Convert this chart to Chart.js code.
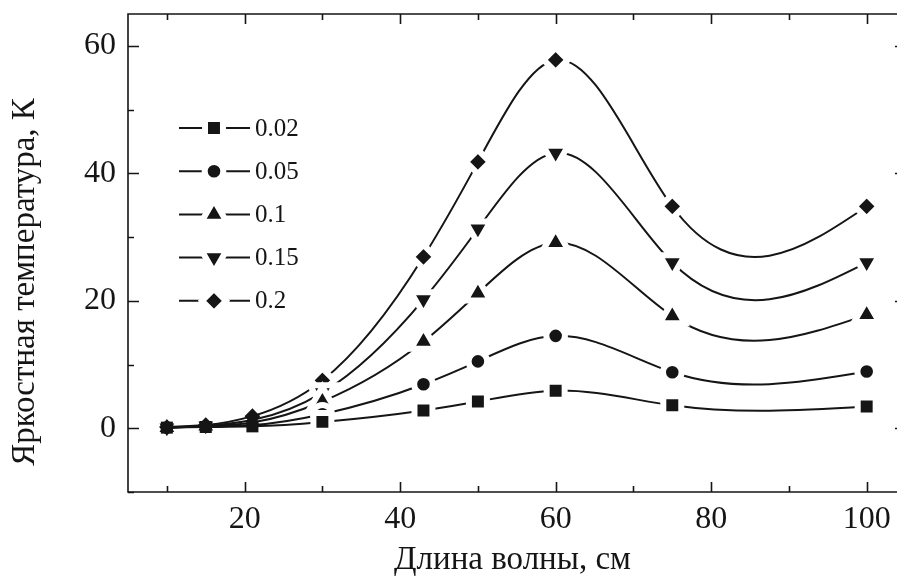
<!DOCTYPE html>
<html>
<head>
<meta charset="utf-8">
<script src="https://cdn.jsdelivr.net/npm/chart.js@4"></script>
<style>
  html, body { margin: 0; padding: 0; background: #fff; overflow: hidden; }
  #wrap { width: 897px; height: 582px; position: relative; }
</style>
</head>
<body>
<div id="wrap"><canvas id="chart"></canvas></div>
<script>
"use strict";

// wavelength, cm
const wavelengths = [10, 15, 21, 30, 43, 50, 60, 75, 100];

// brightness temperature, K
const series002 = [0.1, 0.2, 0.3, 1.0, 2.8, 4.2, 5.9, 3.6, 3.4];
const series005 = [0.1, 0.3, 0.5, 2.2, 6.9, 10.5, 14.5, 8.8, 8.9];
const series01 = [0.1, 0.3, 0.9, 4.2, 13.6, 21.2, 29.1, 17.6, 17.8];
const series015 = [0.1, 0.4, 1.3, 5.6, 20.2, 31.3, 43.2, 26.0, 26.0];
const series02 = [0.2, 0.5, 1.9, 7.5, 26.9, 41.8, 57.8, 34.8, 34.8];

const seriesLabels = ["0.02", "0.05", "0.1", "0.15", "0.2"];
const xTicks = [10, 20, 30, 40, 50, 60, 70, 80, 90, 100];
const yTicks = [-10, 0, 10, 20, 30, 40, 50, 60];
const xTitle = "Длина волны, см";
const yTitle = "Яркостная температура, К";

const FONT = "'Liberation Serif', 'Times New Roman', serif";
const INK = "#151515";

// marker look: visible radius and white halo (gap between line and marker)
const markers = [
  { style: "rect", rotation: 0, r: 8.5, halo: 4.2 },
  { style: "circle", rotation: 0, r: 6.3, halo: 3 },
  { style: "triangle", rotation: 0, r: 8.5, halo: 6 },
  { style: "triangle", rotation: 180, r: 8.5, halo: 6 },
  { style: "rectRot", rotation: 0, r: 7.8, halo: 4.2 },
];
const HALO_W = 6;

function toPoints(values) {
  return wavelengths.map((x, i) => ({ x, y: values[i] }));
}

// natural cubic spline slopes, used to set bezier control points
function splineSlopes(xs, ys) {
  const n = xs.length;
  const h = [];
  for (let i = 0; i < n - 1; i++) h.push(xs[i + 1] - xs[i]);
  const a = new Array(n).fill(0), b = new Array(n).fill(1), c = new Array(n).fill(0), d = new Array(n).fill(0);
  for (let i = 1; i < n - 1; i++) {
    a[i] = h[i - 1];
    b[i] = 2 * (h[i - 1] + h[i]);
    c[i] = h[i];
    d[i] = 6 * ((ys[i + 1] - ys[i]) / h[i] - (ys[i] - ys[i - 1]) / h[i - 1]);
  }
  for (let i = 1; i < n; i++) {
    const w = a[i] / b[i - 1];
    b[i] -= w * c[i - 1];
    d[i] -= w * d[i - 1];
  }
  const M = new Array(n).fill(0);
  M[n - 1] = d[n - 1] / b[n - 1];
  for (let i = n - 2; i >= 0; i--) M[i] = (d[i] - c[i] * M[i + 1]) / b[i];
  M[0] = 0; M[n - 1] = 0;
  const m = [];
  for (let i = 0; i < n - 1; i++) {
    m.push((ys[i + 1] - ys[i]) / h[i] - h[i] * (2 * M[i] + M[i + 1]) / 6);
  }
  const k = n - 2;
  m.push((ys[n - 1] - ys[k]) / h[k] + h[k] * (M[k] + 2 * M[n - 1]) / 6);
  return m;
}

const splinePlugin = {
  id: "spline",
  beforeDatasetsDraw(chart) {
    chart.getSortedVisibleDatasetMetas().forEach(meta => {
      const pts = meta.data;
      const xs = pts.map(p => p.x);
      const ys = pts.map(p => p.y);
      const m = splineSlopes(xs, ys);
      pts.forEach((p, i) => {
        if (i > 0) {
          const h = xs[i] - xs[i - 1];
          p.cp1x = xs[i] - h / 3;
          p.cp1y = ys[i] - m[i] * h / 3;
        }
        if (i < pts.length - 1) {
          const h = xs[i + 1] - xs[i];
          p.cp2x = xs[i] + h / 3;
          p.cp2y = ys[i] + m[i] * h / 3;
        }
      });
      meta.dataset._pointsUpdated = true;
      meta.dataset._path = undefined;
    });
  },
};

// frame: the right side of the box lies just outside the picture,
// only the tips of the major right-hand ticks show at the edge
const framePlugin = {
  id: "frame",
  afterDraw(chart) {
    const { ctx, chartArea: a, scales } = chart;
    ctx.save();
    ctx.strokeStyle = INK;
    ctx.lineWidth = 1.6;
    ctx.beginPath();
    ctx.moveTo(a.right, a.top); ctx.lineTo(a.left, a.top);
    ctx.lineTo(a.left, a.bottom); ctx.lineTo(a.right, a.bottom);
    ctx.stroke();
    ctx.beginPath();
    xTicks.forEach(v => {
      const px = Math.round(scales.x.getPixelForValue(v)) + 0.5;
      const len = v % 20 === 0 ? 10 : 6;
      ctx.moveTo(px, a.bottom); ctx.lineTo(px, a.bottom - len);
      ctx.moveTo(px, a.top); ctx.lineTo(px, a.top + len);
    });
    yTicks.forEach(v => {
      const py = Math.round(scales.y.getPixelForValue(v)) + 0.5;
      const major = v % 20 === 0;
      ctx.moveTo(a.left, py); ctx.lineTo(a.left + (major ? 11 : 6), py);
      if (major) { ctx.moveTo(a.right, py); ctx.lineTo(a.right - 2, py); }
    });
    ctx.stroke();

    // y title, drawn a little below the middle as in the original
    ctx.fillStyle = INK;
    ctx.font = "33px " + FONT;
    ctx.textAlign = "center";
    ctx.textBaseline = "middle";
    ctx.translate(25, (a.top + a.bottom) / 2 + 29);
    ctx.rotate(-Math.PI / 2);
    ctx.fillText(yTitle, 0, 0);
    ctx.restore();
  },
};

const legendPlugin = {
  id: "seriesLegend",
  afterDraw(chart) {
    const { ctx, chartArea: a } = chart;
    ctx.save();
    seriesLabels.forEach((label, i) => {
      const y = a.top + 114 + i * 43.2;
      const x0 = a.left + 51, x1 = a.left + 122, xm = a.left + 86;
      ctx.strokeStyle = INK;
      ctx.lineWidth = 2;
      ctx.beginPath();
      ctx.moveTo(x0, y); ctx.lineTo(x1, y);
      ctx.stroke();
      const mk = markers[i];
      ctx.fillStyle = INK;
      ctx.strokeStyle = "#fff";
      ctx.lineWidth = HALO_W;
      Chart.helpers.drawPoint(ctx, {
        pointStyle: mk.style, rotation: mk.rotation,
        radius: mk.r + mk.halo, borderWidth: HALO_W,
      }, xm, y);
      ctx.fillStyle = INK;
      ctx.font = "25px " + FONT;
      ctx.textAlign = "left";
      ctx.textBaseline = "middle";
      ctx.fillText(label, a.left + 127, y + 1);
    });
    ctx.restore();
  },
};

function makeDataset(label, values, i) {
  const mk = markers[i];
  return {
    label,
    data: toPoints(values),
    borderColor: INK,
    borderWidth: 2,
    tension: 0.4,
    fill: false,
    clip: false,
    pointStyle: mk.style,
    rotation: mk.rotation,
    pointBackgroundColor: INK,
    pointBorderColor: "#fff",
    // close markers at short wavelengths overlap, so no halo there
    pointBorderWidth: ctx => (ctx.raw && ctx.raw.x < 25 ? 0 : HALO_W),
    pointRadius: ctx => (ctx.raw && ctx.raw.x < 25 ? mk.r : mk.r + mk.halo),
    pointHoverRadius: 0,
  };
}

const chart = new Chart(document.getElementById("chart"), {
  type: "line",
  data: {
    datasets: [
      makeDataset(seriesLabels[0], series002, 0),
      makeDataset(seriesLabels[1], series005, 1),
      makeDataset(seriesLabels[2], series01, 2),
      makeDataset(seriesLabels[3], series015, 3),
      makeDataset(seriesLabels[4], series02, 4),
    ],
  },
  options: {
    responsive: true,
    maintainAspectRatio: false,
    animation: false,
    events: [],
    layout: { autoPadding: false, padding: { top: 14, right: 0, bottom: 0, left: 0 } },
    plugins: { legend: { display: false }, tooltip: { enabled: false } },
    scales: {
      x: {
        type: "linear",
        min: 5,
        max: 103.9,
        grid: { display: false },
        border: { display: false },
        afterBuildTicks: s => { s.ticks = xTicks.map(v => ({ value: v })); },
        afterFit: s => { s.height = 90; s.paddingLeft = 0; s.paddingRight = 0; },
        ticks: {
          color: INK,
          padding: 0,
          maxRotation: 0,
          autoSkip: false,
          font: { family: FONT, size: 32 },
          callback: v => (v % 20 === 0 ? String(v) : ""),
        },
        title: {
          display: true,
          text: xTitle,
          color: INK,
          font: { family: FONT, size: 33 },
          padding: { top: 0, bottom: 2 },
        },
      },
      y: {
        type: "linear",
        min: -10,
        max: 65,
        grid: { display: false },
        border: { display: false },
        afterBuildTicks: s => { s.ticks = yTicks.map(v => ({ value: v })); },
        afterFit: s => { s.width = 128; s.paddingTop = 0; s.paddingBottom = 0; },
        ticks: {
          color: INK,
          padding: 4,
          autoSkip: false,
          font: { family: FONT, size: 32 },
          callback: v => (v >= 0 && v % 20 === 0 ? String(v) : ""),
        },
      },
    },
  },
  plugins: [splinePlugin, framePlugin, legendPlugin],
});
</script>
</body>
</html>
